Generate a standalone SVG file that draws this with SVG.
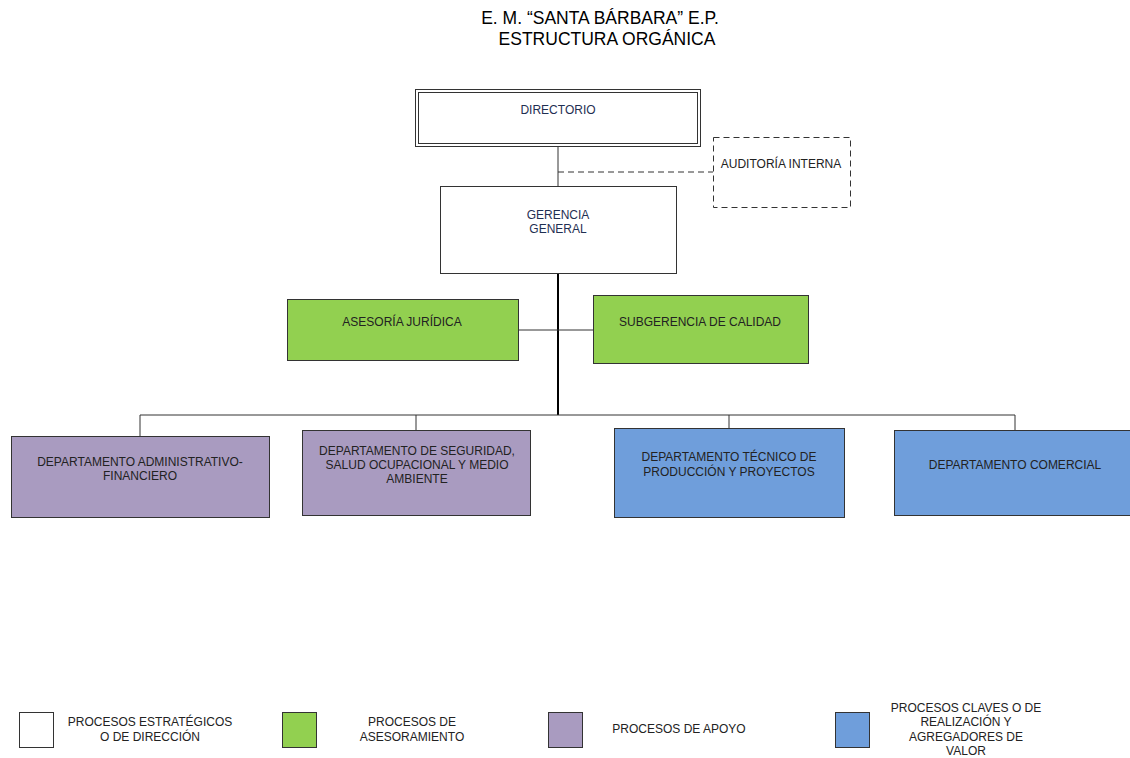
<svg xmlns="http://www.w3.org/2000/svg" width="1130" height="758" viewBox="0 0 1130 758">
<style>
text{font-family:"Liberation Sans",Arial,sans-serif;font-size:12px;fill:#222;text-anchor:middle}
.title{font-size:17.5px;fill:#000}
.navy{fill:#1F2F52}
.box{stroke:#333;stroke-width:1}
.w{fill:#fff}
.g{fill:#92D050}
.p{fill:#A99BC0}
.b{fill:#6F9EDB}
.ln{stroke:#333;stroke-width:1;fill:none}
</style>
<rect width="1130" height="758" fill="#fff"/>
<text class="title" x="600" y="24">E. M. “SANTA BÁRBARA” E.P.</text>
<text class="title" x="607" y="45">ESTRUCTURA ORGÁNICA</text>
<g id="connectors">
<line class="ln" x1="558" y1="146" x2="558" y2="186"/>
<line class="ln" x1="558" y1="172" x2="713" y2="172" stroke-dasharray="6,4"/>
<line x1="558" y1="273" x2="558" y2="415" stroke="#000" stroke-width="2"/>
<line class="ln" x1="518" y1="330" x2="593" y2="330"/>
<polyline class="ln" points="140,436 140,415 1015,415 1015,430"/>
<line class="ln" x1="416" y1="415" x2="416" y2="430"/>
<line class="ln" x1="729" y1="415" x2="729" y2="428"/>
</g>
<g id="directorio">
<rect class="box w" x="415.5" y="89.5" width="285" height="57"/>
<rect class="box w" x="418.5" y="92.5" width="279" height="51"/>
<text class="navy" x="558" y="114">DIRECTORIO</text>
</g>
<g id="auditoria">
<rect x="713.5" y="137.5" width="137" height="70" fill="#fff" stroke="#333" stroke-dasharray="6,4"/>
<text x="781" y="168">AUDITORÍA INTERNA</text>
</g>
<g id="gerencia">
<rect class="box w" x="440.5" y="186.5" width="236" height="87"/>
<text class="navy" x="558" y="219">GERENCIA</text>
<text class="navy" x="558" y="233">GENERAL</text>
</g>
<g id="asesoria">
<rect class="box g" x="287.5" y="299.5" width="231" height="61"/>
<text x="402" y="326">ASESORÍA JURÍDICA</text>
</g>
<g id="subgerencia">
<rect class="box g" x="593.5" y="295.5" width="215" height="68"/>
<text x="700" y="326">SUBGERENCIA DE CALIDAD</text>
</g>
<g id="dep-admin">
<rect class="box p" x="11.5" y="436.5" width="258" height="81"/>
<text x="140" y="466">DEPARTAMENTO ADMINISTRATIVO-</text>
<text x="140" y="480">FINANCIERO</text>
</g>
<g id="dep-seguridad">
<rect class="box p" x="302.5" y="430.5" width="228" height="85"/>
<text x="417" y="455">DEPARTAMENTO DE SEGURIDAD,</text>
<text x="417" y="469">SALUD OCUPACIONAL Y MEDIO</text>
<text x="417" y="483">AMBIENTE</text>
</g>
<g id="dep-tecnico">
<rect class="box b" x="614.5" y="428.5" width="230" height="89"/>
<text x="729" y="461">DEPARTAMENTO TÉCNICO DE</text>
<text x="729" y="476">PRODUCCIÓN Y PROYECTOS</text>
</g>
<g id="dep-comercial">
<rect class="box b" x="894.5" y="430.5" width="240" height="85"/>
<text x="1015" y="469">DEPARTAMENTO COMERCIAL</text>
</g>
<g id="legend">
<rect class="box w" x="19.5" y="712.5" width="34" height="35"/>
<text x="150" y="726">PROCESOS ESTRATÉGICOS</text>
<text x="150" y="741">O DE DIRECCIÓN</text>
<rect class="box g" x="282.5" y="712.5" width="34" height="35"/>
<text x="412" y="726">PROCESOS DE</text>
<text x="412" y="741">ASESORAMIENTO</text>
<rect class="box p" x="548.5" y="712.5" width="34" height="35"/>
<text x="679" y="733">PROCESOS DE APOYO</text>
<rect class="box b" x="835.5" y="712.5" width="34" height="35"/>
<text x="966" y="712">PROCESOS CLAVES O DE</text>
<text x="966" y="726">REALIZACIÓN Y</text>
<text x="966" y="741">AGREGADORES DE</text>
<text x="966" y="755">VALOR</text>
</g>
</svg>
